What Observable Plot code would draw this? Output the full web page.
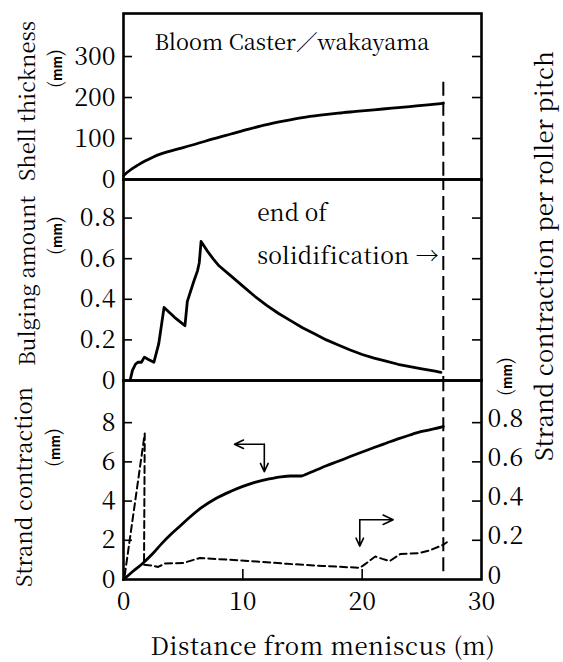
<!DOCTYPE html>
<html><head><meta charset="utf-8">
<script src="https://cdn.jsdelivr.net/npm/d3@7"></script>
<script src="https://cdn.jsdelivr.net/npm/@observablehq/plot@0.6"></script>
<style>
body{margin:0;background:#fff;}
#wrap{position:relative;width:563px;height:662px;overflow:hidden;color:#000;background:#fff;font-family:'Noto Serif CJK JP','Liberation Serif',serif;}
#wrap svg{position:absolute;left:0;overflow:visible;background:transparent;}
.lab{position:absolute;white-space:nowrap;font-size:24px;line-height:1;}
.unit{position:absolute;white-space:nowrap;font-size:19px;line-height:1;}
.unit b{font-family:'Noto Sans CJK JP','DejaVu Sans',sans-serif;font-size:13px;font-weight:bold;}
</style></head><body><div id="wrap"></div>
<script>
// ---- data ----
const shellDist = [0, 0.3, 0.7, 1.2, 1.8, 2.5, 3.2, 4, 5, 6, 7.5, 9, 10.5, 12, 13.5, 15, 16.5, 18, 19.5, 21, 22.5, 24, 25.5, 26.8];
const shellVal  = [9, 17, 26, 35, 45, 55, 63, 70, 78, 86, 99, 111, 123, 134, 143, 151, 157, 162, 166, 170, 174, 178, 182, 186];

const bulgeDist = [0.55, 0.75, 1.0, 1.2, 1.5, 1.75, 2.05, 2.55, 2.95, 3.4, 4.3, 5.15, 5.35, 5.9, 6.2, 6.35, 6.5, 7.0, 7.5, 8, 9, 10, 11, 12, 13, 14, 15, 16, 17, 18, 19, 20, 21, 22, 23, 24, 25, 26, 26.6];
const bulgeVal  = [0, 0.05, 0.08, 0.09, 0.09, 0.115, 0.105, 0.09, 0.18, 0.36, 0.31, 0.27, 0.39, 0.49, 0.54, 0.58, 0.685, 0.64, 0.6, 0.565, 0.515, 0.465, 0.415, 0.37, 0.33, 0.295, 0.26, 0.23, 0.2, 0.175, 0.15, 0.128, 0.11, 0.095, 0.08, 0.068, 0.057, 0.047, 0.04];

const strandDist = [0, 0.8, 1.6, 2.5, 3.2, 4, 4.7, 5.5, 6.5, 7.7, 9, 10, 11, 12.2, 13.2, 14, 14.9, 15.5, 16.1, 17, 18, 19, 20, 21, 22, 23, 24, 25, 26, 26.8];
const strandVal  = [0, 0.42, 0.82, 1.35, 1.83, 2.32, 2.7, 3.15, 3.65, 4.12, 4.5, 4.75, 4.95, 5.13, 5.24, 5.28, 5.28, 5.42, 5.57, 5.8, 6.03, 6.27, 6.5, 6.73, 6.95, 7.17, 7.37, 7.55, 7.68, 7.8];

const pitchDist = [0.1, 1.78, 1.72, 2.3, 2.9, 3.5, 5.0, 6.4, 7.7, 10.7, 13.7, 16.7, 19.8, 20.1, 21.1, 21.7, 22.3, 23.2, 24.7, 25.6, 26.8, 27.1];
const pitchVal  = [0.02, 0.745, 0.075, 0.072, 0.064, 0.082, 0.084, 0.11, 0.105, 0.094, 0.08, 0.069, 0.06, 0.072, 0.117, 0.105, 0.094, 0.13, 0.134, 0.147, 0.177, 0.19];

const endOfSolidification = 26.8;
const endLineTopShell = 237;
const endLineBottomStrand = 0.39;

const xTicks = [0, 10, 20, 30];
const shellTicks = [0, 100, 200, 300];
const bulgeTicks = [0, 0.2, 0.4, 0.6, 0.8];
const strandTicks = [0, 2, 4, 6, 8];
const pitchTicks = [0, 0.2, 0.4, 0.6, 0.8];

const titleText = [{x: 2.6, y: 334, t: "Bloom Caster／wakayama"}];
const bulgeNotes = [{x: 11.2, y: 0.82, t: "end of"}, {x: 11.2, y: 0.61, t: "solidification →"}];
const arrowSegs = [
  {x1: 11.8, y1: 6.9, x2: 9.3, y2: 6.9},
  {x1: 11.8, y1: 6.9, x2: 11.8, y2: 5.5},
  {x1: 19.8, y1: 3.05, x2: 19.8, y2: 1.7},
  {x1: 19.8, y1: 3.05, x2: 22.6, y2: 3.05}
];

// ---- build ----
const zip = (xs, ys) => xs.map((x, i) => ({x, y: ys[i]}));
const shell = zip(shellDist, shellVal);
const bulge = zip(bulgeDist, bulgeVal);
const strand = zip(strandDist, strandVal);
const pitch = zip(pitchDist, pitchVal);

const FAM = "'Noto Serif CJK JP','Liberation Serif',serif";
const W = 563, ML = 123, MR = 82, IW = W - ML - MR;
const baseStyle = `font-family:${FAM};font-size:25px;overflow:visible;background:transparent;color:black;`;
const TK = 9, FS = 25;
const wrap = document.getElementById("wrap");
const fmt1 = d => d === 0 ? "0" : d3.format(".1f")(d);

function inTicksLeft(ticks) {
  return Plot.tickY(ticks.filter(d => d !== 0), {y: d => d, insetRight: IW - TK, strokeWidth: 1.6});
}
function inTicksRight(ticks) {
  return Plot.tickY(ticks.filter(d => d !== 0), {y: d => d, insetLeft: IW - TK, strokeWidth: 1.6});
}
function place(svg, top) {
  svg.style.top = top + "px";
  d3.select(svg).selectAll("text").style("font-family", FAM);
  wrap.appendChild(svg);
}
// fit an svg text to a target width: shrink the font if needed, else add letter-spacing
function fitSvgText(svg, target) {
  d3.select(svg).selectAll('g[aria-label="text"] text').each(function(d, i) {
    const tgt = target[i]; if (!tgt) return;
    const n = this.textContent.length;
    const w = this.getComputedTextLength();
    if (w > tgt) {
      const fs = parseFloat(getComputedStyle(this).fontSize) || 23;
      this.style.fontSize = (fs * tgt / w).toFixed(2) + "px";
    } else {
      this.style.letterSpacing = ((tgt - w) / n).toFixed(2) + "px";
    }
  });
}

// Panel 1: shell thickness
const p1 = Plot.plot({
  width: W, height: 179, marginLeft: ML, marginRight: MR, marginTop: 13, marginBottom: 0,
  style: baseStyle,
  x: {domain: [0, 30], axis: null},
  y: {domain: [0, 405]},
  marks: [
    Plot.axisY(shellTicks, {anchor: "left", tickSize: 0, tickPadding: 8, label: null, fontSize: FS}),
    inTicksLeft(shellTicks), inTicksRight(shellTicks),
    Plot.line(shell, {x: "x", y: "y", curve: "monotone-x", strokeWidth: 2.8}),
    Plot.ruleX([endOfSolidification], {x: d => d, y1: endLineTopShell, y2: 0, strokeWidth: 2, strokeDasharray: "14,6"}),
    Plot.text(titleText, {x: "x", y: "y", text: "t", textAnchor: "start", fontSize: 24}),
    Plot.frame({strokeWidth: 2.6})
  ]
});
place(p1, 0);
fitSvgText(p1, [275]);

// Panel 2: bulging amount
const p2 = Plot.plot({
  width: W, height: 201, marginLeft: ML, marginRight: MR, marginTop: 0, marginBottom: 0,
  style: baseStyle,
  x: {domain: [0, 30], axis: null},
  y: {domain: [0, 0.99]},
  marks: [
    Plot.axisY(bulgeTicks, {anchor: "left", tickSize: 0, tickPadding: 8, label: null, fontSize: FS, tickFormat: fmt1}),
    inTicksLeft(bulgeTicks), inTicksRight(bulgeTicks),
    Plot.line(bulge, {x: "x", y: "y", curve: "linear", strokeWidth: 2.8, strokeLinejoin: "round"}),
    Plot.ruleX([endOfSolidification], {x: d => d, strokeWidth: 2, strokeDasharray: "14,6", strokeDashoffset: 3}),
    Plot.text(bulgeNotes, {x: "x", y: "y", text: "t", textAnchor: "start", fontSize: 23}),
    Plot.frame({strokeWidth: 2.6})
  ]
});
place(p2, 179);
fitSvgText(p2, [70, 180]);

// Panel 3: strand contraction
const p3 = Plot.plot({
  width: W, height: 282, marginLeft: ML, marginRight: MR, marginTop: 0, marginBottom: 83,
  style: baseStyle,
  x: {domain: [0, 30]},
  y: {domain: [0, 10.15]},
  marks: [
    Plot.axisY(strandTicks, {anchor: "left", tickSize: 0, tickPadding: 8, label: null, fontSize: FS}),
    Plot.axisX(xTicks, {anchor: "bottom", tickSize: 0, tickPadding: 13, label: null, fontSize: FS}),
    Plot.tickX(xTicks.filter(d => d > 0 && d < 30), {x: d => d, insetTop: 199 - 10, strokeWidth: 1.6}),
    inTicksLeft(strandTicks),
    Plot.line(strand, {x: "x", y: "y", curve: "monotone-x", strokeWidth: 2.8}),
    Plot.ruleX([endOfSolidification], {x: d => d, y1: endLineBottomStrand, y2: 10.15, strokeWidth: 2, strokeDasharray: "14,6"}),
    Plot.arrow(arrowSegs, {x1: "x1", y1: "y1", x2: "x2", y2: "y2", strokeWidth: 1.6, headLength: 11, headAngle: 50}),
    Plot.frame({strokeWidth: 2.6})
  ]
});
place(p3, 380);

// Panel 3 overlay: strand contraction per roller pitch (right axis)
const p4 = Plot.plot({
  width: W, height: 282, marginLeft: ML, marginRight: MR, marginTop: 0, marginBottom: 83,
  style: baseStyle,
  x: {domain: [0, 30], axis: null},
  y: {domain: [0, 1.015]},
  marks: [
    Plot.axisY(pitchTicks, {anchor: "right", tickSize: 0, tickPadding: 6, label: null, fontSize: FS, tickFormat: fmt1, dy: -4}),
    inTicksRight(pitchTicks),
    Plot.line(pitch, {x: "x", y: "y", curve: "linear", strokeWidth: 2, strokeDasharray: "7,4"})
  ]
});
place(p4, 380);

// ---- axis titles ----
function addLabel(cls, html, cx, cy, target, rotate) {
  const d = document.createElement("div");
  d.className = cls; d.innerHTML = html;
  wrap.appendChild(d);
  if (target) {
    const n = d.textContent.length;
    const w0 = d.offsetWidth;
    if (w0 > target) {
      const fs = parseFloat(getComputedStyle(d).fontSize);
      d.style.fontSize = (fs * target / w0).toFixed(2) + "px";
    } else {
      d.style.letterSpacing = ((target - w0) / n).toFixed(2) + "px";
    }
  }
  const w = d.offsetWidth, h = d.offsetHeight;
  d.style.left = (cx - w / 2) + "px";
  d.style.top = (cy - h / 2) + "px";
  if (rotate) d.style.transform = "rotate(-90deg)";
}
addLabel("lab", "Shell thickness", 26, 101, 160, true);
addLabel("unit", "(<b>mm</b>)", 53, 68, 0, true);
addLabel("lab", "Bulging amount", 26, 281, 170, true);
addLabel("unit", "(<b>mm</b>)", 53, 235, 0, true);
addLabel("lab", "Strand contraction", 23, 487, 200, true);
addLabel("unit", "(<b>mm</b>)", 51, 447, 0, true);
addLabel("lab", "Strand contraction per roller pitch", 543, 256, 410, true);
addLabel("unit", "(<b>mm</b>)", 503, 376, 0, true);
addLabel("lab", "Distance from meniscus (m)", 323, 645, 345, false);
</script></body></html>
